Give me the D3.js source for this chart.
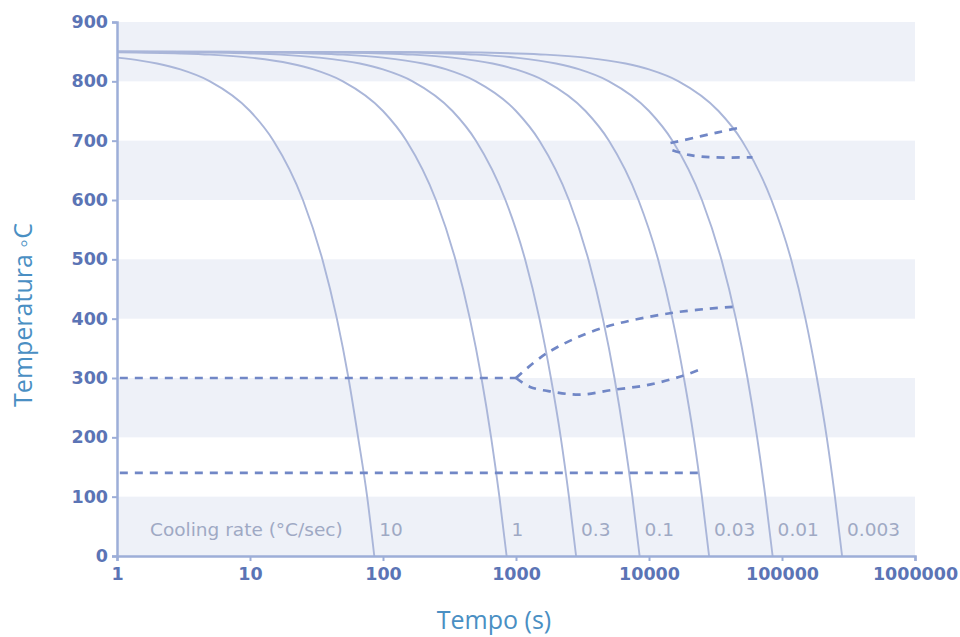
<!DOCTYPE html>
<html>
<head>
<meta charset="utf-8">
<script src="https://cdn.jsdelivr.net/npm/d3@7/dist/d3.min.js"></script>
<style>
  body { margin: 0; background: #fff; }
  svg { display: block; }
</style>
</head>
<body>
<svg id="chart" width="960" height="637"></svg>
<script>
// Cooling curves (time in s, temperature in °C)
const rates = ["10", "1", "0.3", "0.1", "0.03", "0.01", "0.003"];

const curve10 = [[1, 840], [1.5, 835], [2, 830], [3, 820], [5, 800], [10, 750], [15, 700], [25, 600], [35, 500], [45, 400], [55, 300], [65, 200], [76, 100], [86, 0]];
const curve1 = [[1, 849], [3, 847], [5, 845], [10, 840], [20, 830], [30, 820], [50, 800], [100, 750], [150, 700], [250, 600], [350, 500], [450, 400], [550, 300], [650, 200], [750, 100], [850, 0]];
const curve03 = [[1, 850], [3.3, 849], [10, 847], [17, 845], [33, 840], [67, 830], [100, 820], [167, 800], [333, 750], [500, 700], [833, 600], [1170, 500], [1500, 400], [1830, 300], [2170, 200], [2500, 100], [2830, 0]];
const curve01 = [[1, 850], [10, 849], [30, 847], [50, 845], [100, 840], [200, 830], [300, 820], [500, 800], [1000, 750], [1500, 700], [2500, 600], [3500, 500], [4500, 400], [5500, 300], [6500, 200], [7500, 100], [8500, 0]];
const curve003 = [[1, 850], [33, 849], [100, 847], [167, 845], [333, 840], [667, 830], [1000, 820], [1670, 800], [3330, 750], [5000, 700], [8330, 600], [11700, 500], [15000, 400], [18300, 300], [21700, 200], [25000, 100], [28300, 0]];
const curve001 = [[1, 850], [100, 849], [300, 847], [500, 845], [1000, 840], [2000, 830], [3000, 820], [5000, 800], [10000, 750], [15000, 700], [25000, 600], [35000, 500], [45000, 400], [55000, 300], [65000, 200], [75000, 100], [85000, 0]];
const curve0003 = [[1, 850], [333, 849], [1000, 847], [1670, 845], [3330, 840], [6670, 830], [10000, 820], [16700, 800], [33300, 750], [50000, 700], [83300, 600], [117000, 500], [150000, 400], [183000, 300], [217000, 200], [250000, 100], [283000, 0]];
const coolingCurves = [curve10, curve1, curve03, curve01, curve003, curve001, curve0003];

// Transformation lines (dashed)
const msLine = [[1.05, 300], [1000, 300]];
const bainiteStart = [[1000, 300], [1710, 342], [4280, 383], [15200, 410], [42900, 420]];
const bainiteEnd = [[1000, 300], [1275, 285], [1865, 277], [3030, 272], [5350, 280], [9660, 288], [17000, 302], [23400, 313]];
const mfLine = [[1.05, 140], [26000, 140]];
const pearliteStart = [[14500, 696], [22000, 705], [33000, 714], [46000, 721]];
const pearliteEnd = [[15000, 684], [20000, 676], [30000, 672], [60000, 672]];
const dashedLines = [msLine, bainiteStart, bainiteEnd, mfLine, pearliteStart, pearliteEnd];

const xTicks = [1, 10, 100, 1000, 10000, 100000, 1000000];
const yTicks = [0, 100, 200, 300, 400, 500, 600, 700, 800, 900];
const bands = [[800, 900], [600, 700], [400, 500], [200, 300], [0, 100]];

const svg = d3.select("#chart");
const x = d3.scaleLog().domain([1, 1000000]).range([117, 915]);
const y = d3.scaleLinear().domain([0, 900]).range([556, 22]);

const axisColor = "#9daed8";
const tickColor = "#5b74b5";
const curveColor = "#aab6d9";
const dashColor = "#7187c6";
const labelColor = "#9fa9c4";

// Shaded bands
svg.append("g")
  .selectAll("rect")
  .data(bands)
  .join("rect")
  .attr("x", x(1))
  .attr("width", x(1000000) - x(1))
  .attr("y", (d) => y(d[1]))
  .attr("height", (d) => y(d[0]) - y(d[1]))
  .attr("fill", "#eef1f8");

const line = d3.line()
  .x((d) => x(d[0]))
  .y((d) => y(d[1]))
  .curve(d3.curveMonotoneX);

// Cooling curves
svg.append("g")
  .selectAll("path")
  .data(coolingCurves)
  .join("path")
  .attr("d", line)
  .attr("fill", "none")
  .attr("stroke", curveColor)
  .attr("stroke-width", 1.9);

// Dashed transformation lines
const dashLine = d3.line()
  .x((d) => x(d[0]))
  .y((d) => y(d[1]))
  .curve(d3.curveCatmullRom);

svg.append("g")
  .selectAll("path")
  .data(dashedLines)
  .join("path")
  .attr("d", dashLine)
  .attr("fill", "none")
  .attr("stroke", dashColor)
  .attr("stroke-width", 2.7)
  .attr("stroke-dasharray", "8,7");

// Axes
const xAxis = svg.append("g")
  .attr("transform", `translate(0,${y(0)})`)
  .call(d3.axisBottom(x).tickValues(xTicks).tickFormat(d3.format("d")).tickSize(5).tickPadding(7));
const yAxis = svg.append("g")
  .attr("transform", `translate(${x(1)},0)`)
  .call(d3.axisLeft(y).tickValues(yTicks).tickSize(5).tickPadding(4));

[xAxis, yAxis].forEach((a) => {
  a.select(".domain").attr("stroke", axisColor).attr("stroke-width", 2.5);
  a.selectAll(".tick line").attr("stroke", axisColor).attr("stroke-width", 2);
  a.selectAll(".tick text")
    .attr("fill", tickColor)
    .style("font-family", "'DejaVu Sans', sans-serif")
    .style("font-weight", "bold")
    .style("font-size", "17.5px");
});

// Cooling rate labels
const labelFont = "'DejaVu Sans', sans-serif";
svg.append("text")
  .attr("x", 150)
  .attr("y", 536)
  .attr("fill", labelColor)
  .style("font-family", labelFont)
  .style("font-size", "18.5px")
  .text("Cooling rate (°C/sec)");

svg.append("g")
  .selectAll("text")
  .data(coolingCurves)
  .join("text")
  .attr("x", (d) => x(d[d.length - 1][0]) + 5)
  .attr("y", 536)
  .attr("fill", labelColor)
  .style("font-family", labelFont)
  .style("font-size", "18.5px")
  .text((d, i) => rates[i]);

// Axis titles
svg.append("text")
  .attr("x", 494)
  .attr("y", 629)
  .attr("text-anchor", "middle")
  .attr("fill", "#4a8fc3")
  .style("font-family", "'Open Sans', sans-serif")
  .style("font-size", "25px")
  .text("Tempo (s)");

svg.append("text")
  .attr("transform", "translate(32,315) rotate(-90)")
  .attr("text-anchor", "middle")
  .attr("fill", "#4a8fc3")
  .style("font-family", "'Open Sans', sans-serif")
  .style("font-size", "25px")
  .text("Temperatura ◦C");
</script>
</body>
</html>
